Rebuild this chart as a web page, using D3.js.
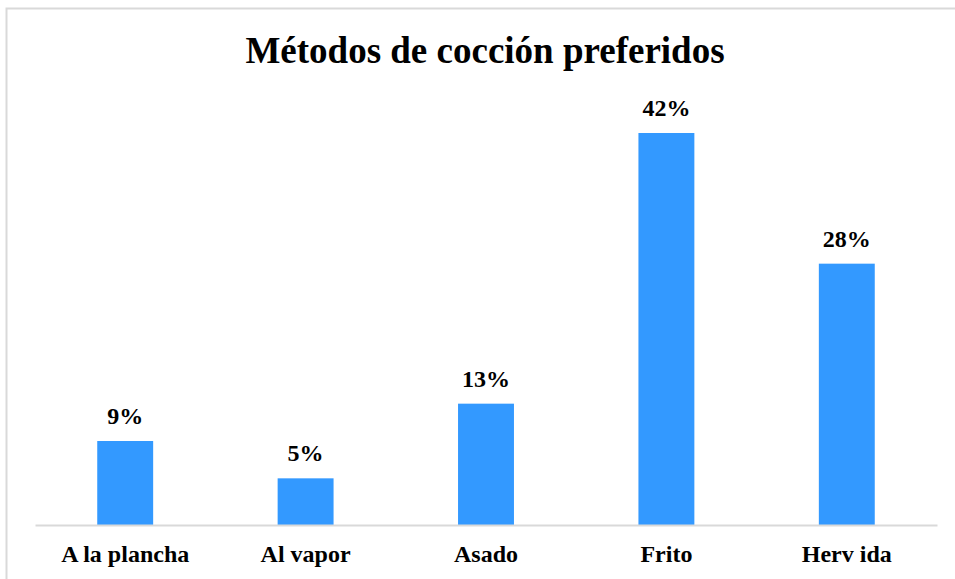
<!DOCTYPE html>
<html>
<head>
<meta charset="utf-8">
<script src="https://cdn.jsdelivr.net/npm/d3@7"></script>
<style>
  body { margin: 0; background: #fff; }
  text { font-family: "Liberation Serif", "Times New Roman", serif; font-weight: bold; fill: #000; }
</style>
</head>
<body>
<svg class="chart" width="955" height="579"></svg>
<script>
// data
var metodos = ["A la plancha", "Al vapor", "Asado", "Frito", "Herv ida"];
var porcentajes = [9, 5, 13, 42, 28];
var titulo = "Métodos de cocción preferidos";

var svg = d3.select(".chart");

// outer border of the chart area
svg.append("rect")
  .attr("x", 6.5).attr("y", 8.5)
  .attr("width", 960).attr("height", 600)
  .attr("fill", "none")
  .attr("stroke", "#d9d9d9")
  .attr("stroke-width", 2);

var xScale = d3.scaleBand()
  .domain(metodos)
  .range([35, 937])
  .paddingInner(0.69)
  .paddingOuter(0.345);

var yScale = d3.scaleLinear()
  .domain([0, 45])
  .range([525, 105]);

svg.append("text")
  .attr("x", 485)
  .attr("y", 63)
  .attr("text-anchor", "middle")
  .style("font-size", "37px")
  .text(titulo);

svg.selectAll(".bar")
  .data(porcentajes)
  .enter()
  .append("rect")
  .attr("class", "bar")
  .attr("x", function(d, i) { return xScale(metodos[i]); })
  .attr("y", function(d) { return yScale(d); })
  .attr("width", xScale.bandwidth())
  .attr("height", function(d) { return yScale(0) - yScale(d); })
  .attr("fill", "#3399ff");

svg.selectAll(".valor")
  .data(porcentajes)
  .enter()
  .append("text")
  .attr("class", "valor")
  .attr("x", function(d, i) { return xScale(metodos[i]) + xScale.bandwidth() / 2; })
  .attr("y", function(d) { return yScale(d) - 17; })
  .attr("text-anchor", "middle")
  .style("font-size", "24px")
  .text(function(d) { return d + "%"; });

// x axis: baseline only, labels below
var xAxis = d3.axisBottom(xScale).tickSize(0).tickPadding(20);
var gx = svg.append("g")
  .attr("transform", "translate(0, 525)")
  .call(xAxis);
gx.attr("font-family", null).attr("font-size", null);
gx.select(".domain").attr("stroke", "#d9d9d9").attr("stroke-width", 2);
gx.selectAll("text")
  .style("font-size", "24px")
  .attr("fill", "#000");
</script>
</body>
</html>
